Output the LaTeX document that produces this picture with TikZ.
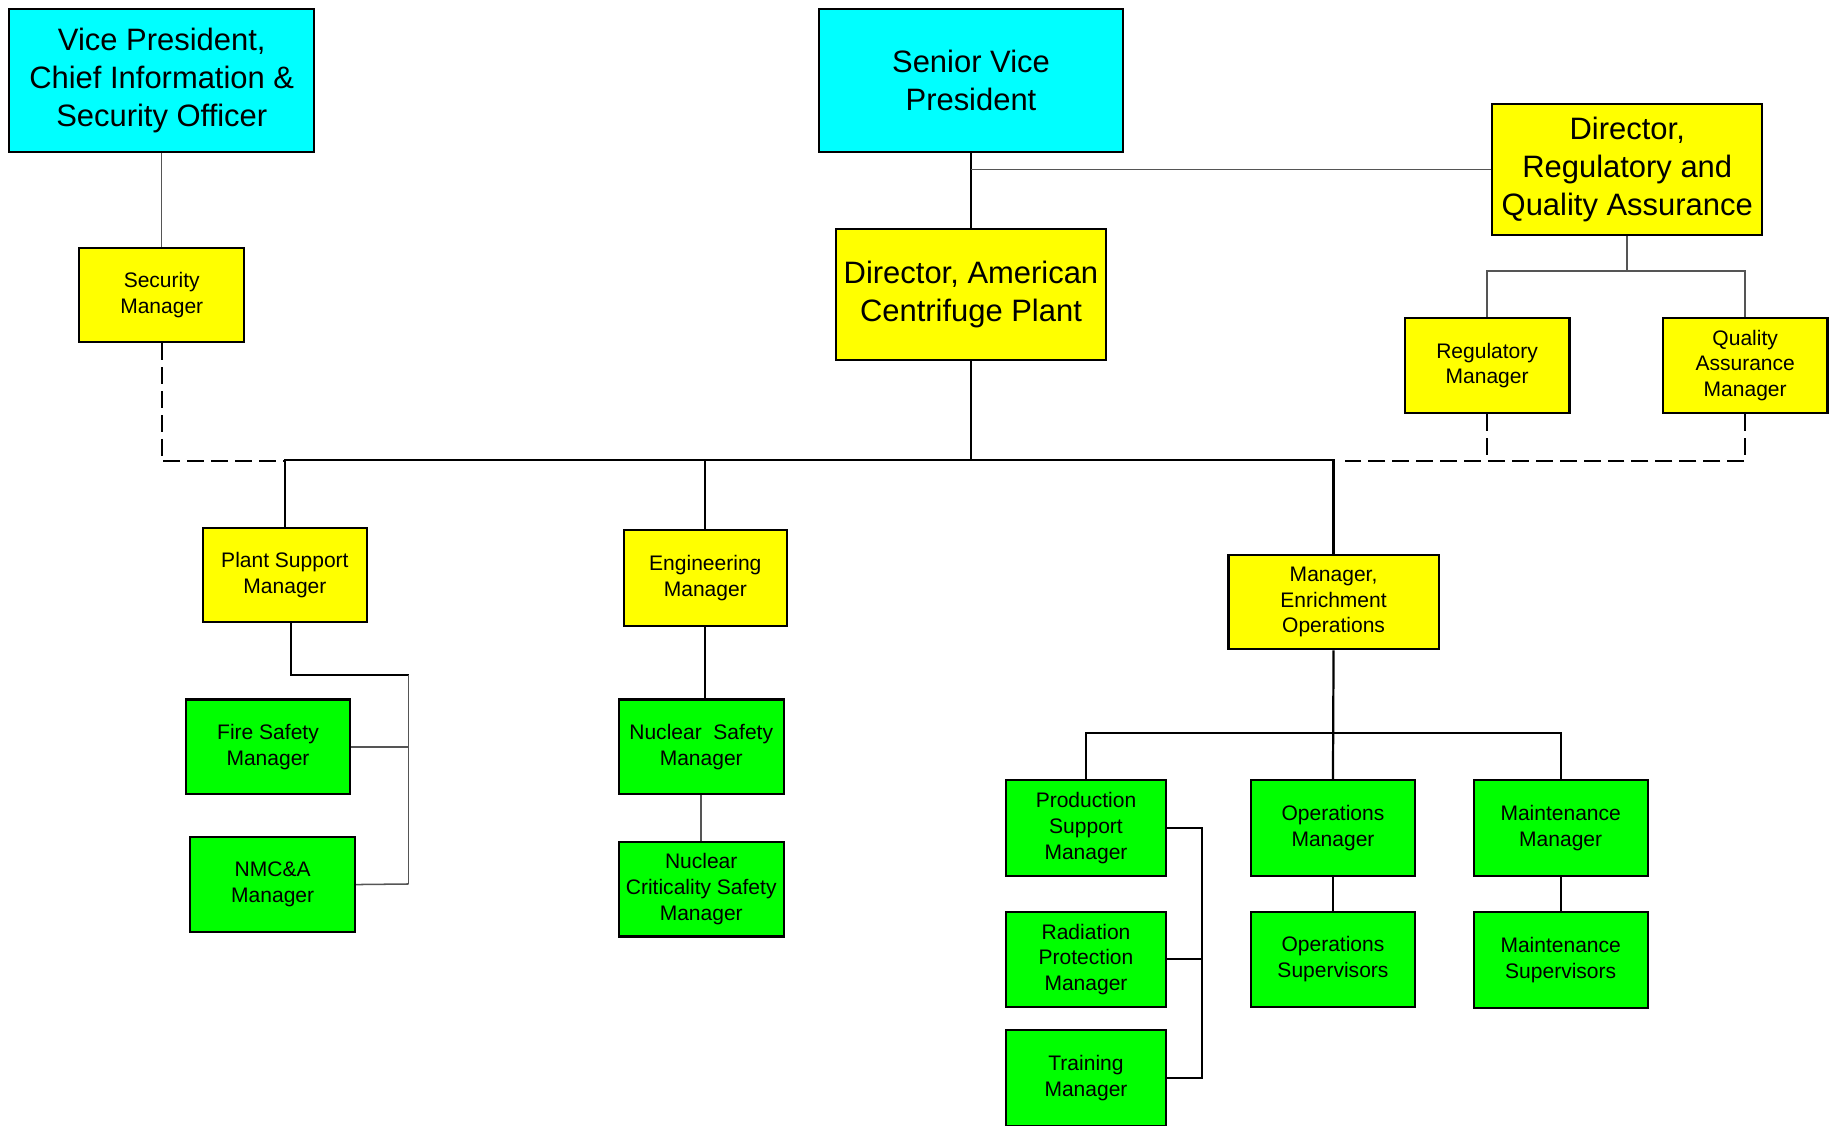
\documentclass[tikz,border=0pt]{standalone}
\usepackage{fontspec}
\setmainfont{Liberation Sans}
\definecolor{boxcyan}{HTML}{00FFFF}
\definecolor{boxyellow}{HTML}{FFFF00}
\definecolor{boxgreen}{HTML}{00FF00}
\definecolor{thingray}{HTML}{555555}
\tikzset{
  box/.style={draw=black, line width=1.8pt, rectangle, inner sep=0pt, align=center},
  bigtxt/.style={font=\fontsize{26.5}{32.5}\selectfont},
  smalltxt/.style={font=\fontsize{18}{22}\selectfont},
  cyanbox/.style={box, fill=boxcyan, bigtxt},
  bigyellow/.style={box, fill=boxyellow, bigtxt},
  yellowbox/.style={box, fill=boxyellow, smalltxt},
  greenbox/.style={box, fill=boxgreen, smalltxt},
  mainline/.style={draw=black, line width=1.9pt},
  thinline/.style={draw=thingray, line width=1.3pt},
  dashline/.style={draw=black, line width=2pt, dash pattern=on 14.5pt off 6pt}
}
\begin{document}
\begin{tikzpicture}[x=1pt, y=-1pt]
\useasboundingbox (0,0) rectangle (1568,964);
% top level
\node[cyanbox, minimum width=261pt, minimum height=122pt] (vp) at (138.5,69) {Vice President,\\Chief Information \&\\Security Officer};
\node[cyanbox, minimum width=261pt, minimum height=122pt] (svp) at (831.5,69) {Senior Vice\\President};
\node[bigyellow, minimum width=231pt, minimum height=112pt] (drqa) at (1393.5,145) {Director,\\Regulatory and\\Quality Assurance};
\node[bigyellow, minimum width=231pt, minimum height=112pt] (dacp) at (831.5,252) {Director, American\\Centrifuge Plant};
\node[yellowbox, minimum width=141pt, minimum height=81pt] (sec) at (138.5,252.5) {Security\\Manager};
\node[yellowbox, minimum width=141pt, minimum height=82pt] (reg) at (1273.5,313) {Regulatory\\Manager};
\node[yellowbox, minimum width=141pt, minimum height=82pt] (qa) at (1494.5,313) {Quality\\Assurance\\Manager};
% second level
\node[yellowbox, minimum width=140pt, minimum height=81pt] (ps) at (244,492.5) {Plant Support\\Manager};
\node[yellowbox, minimum width=140pt, minimum height=82pt] (eng) at (604,495) {Engineering\\Manager};
\node[yellowbox, minimum width=180pt, minimum height=81pt] (meo) at (1142,515.5) {Manager,\\Enrichment\\Operations};
% green
\node[greenbox, minimum width=141pt, minimum height=81pt] (fire) at (229.5,639.5) {Fire Safety\\Manager};
\node[greenbox, minimum width=141pt, minimum height=81pt] (nmc) at (233.5,757.5) {NMC\&A\\Manager};
\node[greenbox, minimum width=141pt, minimum height=81pt] (ns) at (600.5,639.5) {Nuclear\ \ Safety\\Manager};
\node[greenbox, minimum width=141pt, minimum height=81pt] (ncs) at (600.5,761.5) {Nuclear\\Criticality Safety\\Manager};
\node[greenbox, minimum width=137pt, minimum height=82pt] (prod) at (930,709) {Production\\Support\\Manager};
\node[greenbox, minimum width=141pt, minimum height=82pt] (opm) at (1141.5,709) {Operations\\Manager};
\node[greenbox, minimum width=149pt, minimum height=82pt] (mm) at (1336.5,709) {Maintenance\\Manager};
\node[greenbox, minimum width=137pt, minimum height=81pt] (rad) at (930,821.5) {Radiation\\Protection\\Manager};
\node[greenbox, minimum width=141pt, minimum height=81pt] (opsup) at (1141.5,821.5) {Operations\\Supervisors};
\node[greenbox, minimum width=149pt, minimum height=82pt] (msup) at (1336.5,822) {Maintenance\\Supervisors};
\node[greenbox, minimum width=137pt, minimum height=82pt] (train) at (930,923) {Training\\Manager};
% helper coordinates
\coordinate (bus) at (0,394);
\coordinate (dbus) at (0,395);
\coordinate (dashend) at (1152,395);
\coordinate (qbus) at (0,232);
\coordinate (psturn) at (350,578);
\coordinate (psbot) at (350,757);
\coordinate (obus) at (0,628);
\coordinate (rbus) at (1029,0);
% connectors top
\draw[thinline] (vp.south) -- (sec.north);
\draw[mainline] (svp.south) -- (dacp.north);
\draw[thinline] (drqa.west) -- (drqa.west -| svp.south);
\draw[thinline] (drqa.south) -- (drqa.south |- qbus);
\draw[thinline] (reg.north) -- (reg.north |- qbus) -- (qa.north |- qbus) -- (qa.north);
% main bus
\draw[mainline] (dacp.south) -- (dacp.south |- bus);
\draw[mainline] (ps.north) -- (ps.north |- bus) -- (meo.north |- bus) -- (meo.north);
\draw[mainline] (eng.north) -- (eng.north |- bus);
% dashed
\draw[dashline] (sec.south) -- (sec.south |- dbus) -- (ps.north |- dbus);
\draw[dashline] (reg.south) -- (reg.south |- dbus);
\draw[dashline] (qa.south) -- (qa.south |- dbus) -- (dashend);
% plant support group
\draw[mainline] ([xshift=5pt]ps.south) -- ([xshift=5pt]ps.south |- psturn) -- (psturn);
\draw[thinline] (psturn) -- (psbot);
\draw[thinline] (fire.east) -- (fire.east -| psturn);
\draw[thinline] (nmc.east) -- (psbot);
% engineering group
\draw[mainline] (eng.south) -- (eng.south |- ns.north);
\draw[thinline] (ns.south) -- (ncs.north);
% operations group
\draw[mainline] (meo.south) -- (opm.north);
\draw[mainline] (prod.north) -- (prod.north |- obus) -- (mm.north |- obus) -- (mm.north);
\draw[mainline] (opm.south) -- (opsup.north);
\draw[mainline] (mm.south) -- (msup.north);
\draw[mainline] (prod.east) -- (prod.east -| rbus) -- (train.east -| rbus) -- (train.east);
\draw[mainline] (rad.east) -- (rad.east -| rbus);
\end{tikzpicture}
\end{document}
